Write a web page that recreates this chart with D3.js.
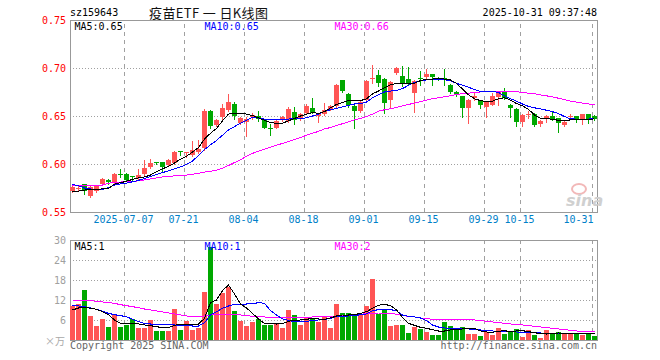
<!DOCTYPE html>
<html>
<head>
<meta charset="utf-8">
<script src="https://cdn.jsdelivr.net/npm/d3@7"></script>
<style>
  body { margin: 0; background: #fff; }
  svg { display: block; }
  text { font-family: "DejaVu Sans Mono", monospace; font-size: 10px; }
</style>
</head>
<body>
<svg id="chart" width="660" height="360"></svg>
<script>
// trading days shown on the chart
const dates = [
  '2025-06-24','2025-06-25','2025-06-26','2025-06-27','2025-06-30',
  '2025-07-01','2025-07-02','2025-07-03','2025-07-04','2025-07-07','2025-07-08','2025-07-09','2025-07-10','2025-07-11',
  '2025-07-14','2025-07-15','2025-07-16','2025-07-17','2025-07-18','2025-07-21','2025-07-22','2025-07-23','2025-07-24',
  '2025-07-25','2025-07-28','2025-07-29','2025-07-30','2025-07-31',
  '2025-08-01','2025-08-04','2025-08-05','2025-08-06','2025-08-07','2025-08-08','2025-08-11','2025-08-12','2025-08-13',
  '2025-08-14','2025-08-15','2025-08-18','2025-08-19','2025-08-20','2025-08-21','2025-08-22','2025-08-25','2025-08-26',
  '2025-08-27','2025-08-28','2025-08-29',
  '2025-09-01','2025-09-02','2025-09-03','2025-09-04','2025-09-05','2025-09-08','2025-09-09','2025-09-10','2025-09-11',
  '2025-09-12','2025-09-15','2025-09-16','2025-09-17','2025-09-18','2025-09-19','2025-09-22','2025-09-23','2025-09-24',
  '2025-09-25','2025-09-26','2025-09-29','2025-09-30',
  '2025-10-09','2025-10-10','2025-10-13','2025-10-14','2025-10-15','2025-10-16','2025-10-17','2025-10-20','2025-10-21',
  '2025-10-22','2025-10-23','2025-10-24','2025-10-27','2025-10-28','2025-10-29','2025-10-30','2025-10-31'
];

const open = [
  0.572,0.574,0.579,0.567,0.572,0.579,0.583,0.581,0.590,0.590,0.587,0.585,0.590,0.597,0.602,0.602,0.599,0.601,0.614,0.611,
  0.609,0.612,0.617,0.655,0.641,0.649,0.656,0.662,0.643,0.644,0.6485,0.650,0.6465,0.638,0.638,0.6465,0.645,0.6545,0.6465,0.653,
  0.658,0.6505,0.652,0.6565,0.660,0.6875,0.673,0.660,0.6556,0.667,0.689,0.6927,0.689,0.6667,0.6944,0.6917,0.689,0.6743,0.690,0.691,
  0.6937,0.690,0.690,0.682,0.6745,0.6708,0.6587,0.6684,0.6667,0.659,0.6615,0.670,0.6753,0.6615,0.657,0.644,0.6517,0.652,0.6417,0.6465,
  0.650,0.6476,0.6406,0.6493,0.650,0.6465,0.6517,0.650
];
const high = [
  0.577,0.577,0.579,0.577,0.578,0.585,0.584,0.591,0.595,0.591,0.588,0.595,0.604,0.605,0.602,0.602,0.605,0.614,0.614,0.613,
  0.624,0.625,0.657,0.656,0.647,0.662,0.673,0.665,0.649,0.649,0.653,0.655,0.647,0.642,0.646,0.650,0.659,0.659,0.653,0.663,
  0.669,0.653,0.664,0.661,0.683,0.688,0.674,0.661,0.667,0.687,0.703,0.698,0.690,0.686,0.7014,0.702,0.701,0.688,0.697,0.6986,
  0.694,0.691,0.6993,0.683,0.676,0.671,0.6675,0.6753,0.6667,0.666,0.6736,0.6755,0.6788,0.662,0.658,0.652,0.6556,0.653,0.6455,0.651,
  0.6556,0.648,0.645,0.652,0.6505,0.652,0.652,0.651
];
const low = [
  0.571,0.572,0.569,0.566,0.571,0.578,0.579,0.580,0.586,0.582,0.583,0.584,0.589,0.596,0.600,0.592,0.598,0.600,0.609,0.607,
  0.608,0.611,0.615,0.638,0.640,0.646,0.655,0.647,0.642,0.629,0.647,0.645,0.637,0.630,0.637,0.645,0.644,0.642,0.646,0.652,
  0.653,0.644,0.651,0.656,0.659,0.675,0.659,0.637,0.654,0.666,0.684,0.681,0.653,0.658,0.694,0.681,0.683,0.6545,0.682,0.690,
  0.6823,0.688,0.682,0.674,0.671,0.6493,0.6431,0.6667,0.658,0.6493,0.661,0.6615,0.668,0.6493,0.6396,0.640,0.6476,0.640,0.6396,0.644,
  0.6458,0.6337,0.640,0.6465,0.644,0.6417,0.643,0.6458
];
const close = [
  0.576,0.575,0.572,0.576,0.577,0.584,0.581,0.590,0.589,0.583,0.586,0.589,0.596,0.601,0.6015,0.597,0.604,0.613,0.613,0.612,
  0.615,0.616,0.655,0.640,0.646,0.658,0.665,0.650,0.648,0.647,0.651,0.6465,0.638,0.636,0.645,0.649,0.657,0.646,0.652,0.660,
  0.6535,0.652,0.656,0.660,0.682,0.676,0.6615,0.6556,0.665,0.6865,0.690,0.684,0.664,0.6858,0.6997,0.6833,0.684,0.6868,0.689,0.6937,
  0.691,0.689,0.6875,0.675,0.672,0.6587,0.6667,0.6708,0.6615,0.665,0.6708,0.6753,0.6684,0.658,0.644,0.651,0.6524,0.6406,0.6448,0.650,
  0.6465,0.643,0.6441,0.650,0.6458,0.6517,0.6465,0.647
];
// volume, in 万
const volume = [
  10.3,10.8,15,7.2,4.2,6.3,3.9,7.5,3.9,4.5,6.3,3.7,3.7,6,2.7,2.7,2.7,9.3,3,5.7,
  3,3.6,14.4,27.8,10.8,14.1,15.9,8.7,5.7,4.2,5.4,6.3,4.5,4.5,4.8,3.6,9,7.5,4.5,6.9,
  6.3,5.4,6.9,3.6,10.8,8.1,8.1,7.5,7.5,10.2,18.3,7.8,9.3,4.2,4.5,4.5,2.1,3.9,3.3,2.4,
  1.5,1.5,5.4,4.2,3,3.9,1.8,1.8,1.2,2.4,1.5,3.6,1.8,2.4,3.3,0.9,3,1.5,0.6,3,
  2.1,2.4,1.8,1.8,2.1,1.5,1.8,1.2
];

// moving averages as drawn on the chart
const ma5 = [
  0.5712,0.5718,0.5728,0.5735,0.5738,0.5740,0.5745,0.5790,0.5805,0.5820,0.5840,0.5855,0.5865,0.5885,0.5920,0.5950,0.5975,0.6010,0.6050,0.6080,
  0.6125,0.6170,0.626,0.632,0.637,0.645,0.652,0.6528,0.6528,0.652,0.6505,0.648,0.6455,0.643,0.6425,0.6425,0.6450,0.6475,0.6500,0.6520,
  0.6535,0.6528,0.6545,0.6585,0.6620,0.6640,0.6660,0.6660,0.6660,0.6680,0.6730,0.6760,0.6795,0.6825,0.6840,0.6840,0.6835,0.6840,0.6870,0.6880,
  0.6885,0.6890,0.6885,0.6875,0.6840,0.6780,0.6720,0.6680,0.6660,0.6650,0.6655,0.6680,0.6690,0.6665,0.6630,0.6605,0.6570,0.6510,0.6475,0.6475,
  0.6465,0.6455,0.6450,0.6460,0.6465,0.6465,0.6465,0.6470
];
const ma10 = [
  0.5790,0.5772,0.5750,0.5740,0.5736,0.5736,0.5755,0.5780,0.5793,0.5800,0.5815,0.5830,0.5850,0.5870,0.5890,0.5910,0.5930,0.5950,0.5970,0.5995,
  0.6030,0.6090,0.6150,0.6200,0.6245,0.6300,0.6355,0.6390,0.6425,0.6455,0.6485,0.6478,0.6468,0.6465,0.6465,0.6465,0.6468,0.6472,0.6476,0.6480,
  0.6500,0.6520,0.6550,0.6565,0.6580,0.6595,0.6610,0.6625,0.6630,0.6645,0.6690,0.6720,0.6750,0.6760,0.6765,0.6785,0.6820,0.6850,0.6870,0.6875,
  0.6878,0.6880,0.6880,0.6865,0.6840,0.6820,0.6800,0.6775,0.6755,0.6755,0.6755,0.6745,0.6710,0.6680,0.6655,0.6625,0.6600,0.6585,0.6575,0.6560,
  0.6545,0.6525,0.6495,0.6470,0.6468,0.6468,0.6468,0.6472
];
const ma30 = [
  0.5775,0.5776,0.5777,0.5778,0.5779,0.5781,0.5800,0.5808,0.5812,0.5816,0.5818,0.5824,0.5835,0.5845,0.5855,0.5865,0.5870,0.5876,0.5880,0.5885,
  0.5893,0.5903,0.5915,0.5925,0.5935,0.5955,0.5985,0.6015,0.6045,0.6080,0.6110,0.6135,0.6155,0.6175,0.6195,0.6215,0.6235,0.6255,0.6275,0.6300,
  0.6320,0.6340,0.6365,0.6380,0.6400,0.6420,0.6440,0.6460,0.6475,0.6495,0.6520,0.6550,0.6565,0.6575,0.6590,0.6605,0.6620,0.6635,0.6650,0.6665,
  0.6680,0.6690,0.6700,0.6712,0.6725,0.6732,0.6738,0.6745,0.6750,0.6752,0.6755,0.6758,0.6760,0.6758,0.6753,0.6745,0.6738,0.6732,0.6720,0.6710,
  0.6700,0.6685,0.6670,0.6655,0.6645,0.6635,0.6625,0.6615
];
const vma5 = [
  9.0,9.6,9.8,9.5,9.2,8.5,7.6,6.0,5.0,5.0,5.0,4.8,4.5,4.3,4.0,3.7,3.7,4.4,4.8,4.8,
  4.8,4.8,6.5,11.2,12.0,14.8,16.5,13.8,10.8,9.6,8.0,6.3,5.0,4.9,4.8,4.9,5.6,5.9,6.0,6.2,
  6.5,6.3,6.2,6.6,7.2,7.5,7.5,7.6,8.0,8.5,9.5,10.4,10.7,10.3,9.0,6.8,5.0,4.4,3.8,3.5,
  3.1,2.7,2.7,3.0,3.2,3.3,3.4,3.5,2.7,2.4,2.3,2.6,2.8,2.5,2.7,2.8,2.5,2.2,1.9,1.8,
  2.0,2.1,2.0,1.8,1.9,2.0,1.9,1.8
];
const vma10 = [
  10.4,10.2,10.0,9.6,9.2,8.6,8.0,7.6,7.3,7.0,6.2,5.5,5.0,4.8,4.8,4.7,4.7,4.5,4.4,4.3,
  4.2,4.2,5.2,7.5,8.5,9.5,10.2,10.7,10.8,10.8,10.9,11.2,11.0,8.8,7.5,6.3,5.9,5.5,5.5,5.6,
  5.8,6.0,6.2,6.5,7.0,7.1,7.2,7.3,7.6,7.8,8.8,9.1,9.2,9.1,8.8,7.5,7.1,6.9,6.6,5.8,
  4.5,3.9,3.6,3.5,3.4,3.4,3.3,3.2,3.0,2.9,2.7,2.6,2.5,2.5,2.4,2.2,2.2,2.2,2.1,2.0,
  2.1,2.1,2.0,1.9,1.9,1.9,1.9,1.8
];
const vma30 = [
  12.0,12.0,11.9,11.8,11.6,11.4,11.2,11.0,10.6,10.3,10.0,9.7,9.3,9.0,8.7,8.4,8.1,7.8,7.5,7.2,
  7.0,6.9,7.2,7.5,7.6,7.7,7.7,7.6,7.5,7.3,7.1,7.0,6.9,6.8,6.7,6.7,6.7,6.7,6.8,6.8,
  6.9,7.0,7.0,7.1,7.2,7.3,7.4,7.5,7.7,7.9,8.0,8.1,8.1,8.0,7.7,7.4,7.1,6.9,6.6,6.4,
  6.2,6.2,6.2,6.2,6.2,6.2,6.1,6.0,5.8,5.6,5.4,5.2,5.0,4.8,4.7,4.5,4.3,4.1,3.9,3.7,
  3.5,3.3,3.1,2.9,2.7,2.6,2.5,2.5
];

const tickDates = ['2025-07-07','2025-07-21','2025-08-04','2025-08-18','2025-09-01','2025-09-15','2025-09-29','2025-10-15','2025-10-31'];
const priceTicks = [0.55, 0.60, 0.65, 0.70, 0.75];
const volTicks = [6, 12, 18, 24, 30];

const RED = '#ff5555', GREEN = '#00a800', GRID = '#a0a0a0', FRAME = '#999';

const svg = d3.select('#chart');

const x = d3.scaleBand().domain(dates).range([70, 598])
  .paddingInner(1 / 6).paddingOuter(1 / 12).align(0);
const y = d3.scaleLinear().domain([0.55, 0.75]).range([212, 20]);
const yv = d3.scaleLinear().domain([0, 30]).range([340, 240]);
const bw = x.bandwidth();

const rows = dates.map((d, i) => ({ d, o: open[i], h: high[i], l: low[i], c: close[i], v: volume[i] }));
const colour = r => (r.c >= r.o ? RED : GREEN);

// ---- grids
function hGrid(scale, vals) {
  svg.append('g').attr('transform', 'translate(70,0)')
    .call(d3.axisLeft(scale).tickValues(vals).tickSize(-527).tickFormat(''))
    .call(g => g.select('.domain').remove())
    .selectAll('line').attr('stroke', GRID).attr('stroke-dasharray', '1,2');
}
function vGrid(top, bottom) {
  svg.append('g').attr('transform', `translate(-2,${bottom})`)
    .call(d3.axisBottom(x).tickValues(tickDates).tickSize(-(bottom - top)).tickFormat(''))
    .call(g => g.select('.domain').remove())
    .selectAll('line').attr('stroke', GRID).attr('stroke-dasharray', '4,4');
}
hGrid(y, [0.60, 0.65, 0.70]);
hGrid(yv, [6, 12, 18, 24]);
vGrid(20, 212);
vGrid(240, 340);

// frames
svg.append('rect').attr('x', 70.5).attr('y', 20.5).attr('width', 527).attr('height', 192)
  .attr('fill', 'none').attr('stroke', FRAME);
svg.append('rect').attr('x', 70.5).attr('y', 240.5).attr('width', 527).attr('height', 100)
  .attr('fill', 'none').attr('stroke', FRAME);

// sina watermark
const wm = svg.append('g');
wm.append('ellipse').attr('cx', 579).attr('cy', 189).attr('rx', 7).attr('ry', 5)
  .attr('fill', 'none').attr('stroke', '#f2b8b8').attr('stroke-width', 2);
wm.append('text').attr('x', 566).attr('y', 206).text('sina')
  .style('font-family', 'DejaVu Sans').style('font-size', '16px').style('font-style', 'italic')
  .style('font-weight', 'bold').attr('fill', '#d0d0d0');

// ---- axes labels
svg.append('g').attr('transform', 'translate(70,0)')
  .call(d3.axisLeft(y).tickValues(priceTicks).tickSize(0).tickPadding(4).tickFormat(d3.format('.2f')))
  .call(g => g.select('.domain').remove())
  .selectAll('text').attr('fill', '#f00').style('font-family', '"DejaVu Sans Mono", monospace').style('font-size', '10px');

svg.append('g').attr('transform', 'translate(70,0)')
  .call(d3.axisLeft(yv).tickValues(volTicks).tickSize(0).tickPadding(4))
  .call(g => g.select('.domain').remove())
  .selectAll('text').attr('fill', '#a0a0a0').style('font-family', '"DejaVu Sans Mono", monospace').style('font-size', '10px');

const xAxis = svg.append('g').attr('transform', 'translate(-3,213)')
  .call(d3.axisBottom(x).tickValues(tickDates).tickSize(0).tickPadding(3)
    .tickFormat((d, i) => (i === 0 ? d : d.slice(5))))
  .call(g => g.select('.domain').remove());
xAxis.selectAll('text').attr('fill', '#0080c8')
  .style('font-family', '"DejaVu Sans Mono", monospace').style('font-size', '10px');
xAxis.selectAll('.tick').filter(d => d === tickDates[tickDates.length - 1])
  .select('text').attr('text-anchor', 'end').attr('x', 2);

// ---- volume bars
svg.append('g').selectAll('rect').data(rows).join('rect')
  .attr('x', r => x(r.d)).attr('width', bw)
  .attr('y', r => Math.round(yv(r.v))).attr('height', r => 340 - Math.round(yv(r.v)))
  .attr('fill', colour).attr('shape-rendering', 'crispEdges');

// ---- candles
const candles = svg.append('g').selectAll('g').data(rows).join('g')
  .attr('shape-rendering', 'crispEdges');
candles.append('line')
  .attr('x1', r => x(r.d) + 2.5).attr('x2', r => x(r.d) + 2.5)
  .attr('y1', r => Math.round(y(r.h))).attr('y2', r => Math.round(y(r.l)) + 1)
  .attr('stroke', colour);
candles.append('rect')
  .attr('x', r => x(r.d)).attr('width', bw)
  .attr('y', r => Math.round(y(Math.max(r.o, r.c))))
  .attr('height', r => Math.max(1, Math.round(y(Math.min(r.o, r.c))) - Math.round(y(Math.max(r.o, r.c)))))
  .attr('fill', colour);

// ---- moving average lines
function maLine(vals, scale, col) {
  svg.append('path')
    .attr('d', d3.line().x((d, i) => x(dates[i]) + 2.5).y(d => scale(d))(vals))
    .attr('fill', 'none').attr('stroke', col).attr('stroke-width', 1)
    .attr('shape-rendering', 'crispEdges');
}
maLine(ma30, y, '#ff00ff');
maLine(ma10, y, '#0000ff');
maLine(ma5, y, '#000');
maLine(vma30, yv, '#ff00ff');
maLine(vma10, yv, '#0000ff');
maLine(vma5, yv, '#000');

// ---- texts
const txt = (xx, yy, s, fill, anchor) => svg.append('text')
  .attr('x', xx).attr('y', yy).attr('fill', fill).attr('text-anchor', anchor || 'start').text(s);

txt(70, 16, 'sz159643', '#000');
txt(597, 16, '2025-10-31 09:37:48', '#000', 'end');
svg.append('text').attr('x', 149).attr('y', 17.5)
  .attr('textLength', 119).attr('lengthAdjust', 'spacing')
  .style('font-family', '"Noto Sans CJK SC", sans-serif').style('font-size', '13px')
  .attr('fill', '#111').text('疫苗ETF 一 日K线图');

txt(74.5, 29.5, 'MA5:0.65', '#000');
txt(204.5, 29.5, 'MA10:0.65', '#0000ff');
txt(334.5, 29.5, 'MA30:0.66', '#ff00ff');

txt(74.5, 250, 'MA5:1', '#000');
txt(204.5, 250, 'MA10:1', '#0000ff');
txt(334.5, 250, 'MA30:2', '#ff00ff');

svg.append('text').attr('x', 65).attr('y', 345).attr('text-anchor', 'end')
  .style('font-family', '"Noto Sans CJK SC", sans-serif').style('font-size', '10px')
  .attr('fill', '#a8a8a8').text('×万');

txt(70, 349, 'Copyright 2025 SINA.COM', '#666');
txt(597, 349, 'http://finance.sina.com.cn', '#666', 'end');
</script>
</body>
</html>
